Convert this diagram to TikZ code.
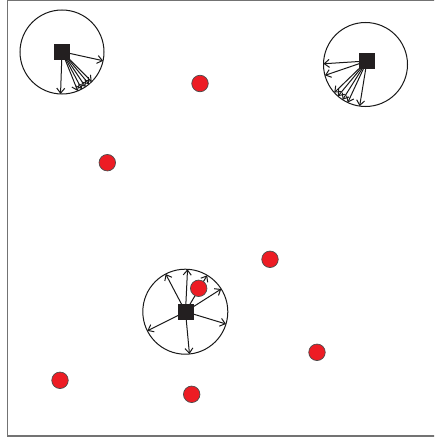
\documentclass[tikz,border=0pt]{standalone}
\usetikzlibrary{arrows.meta,calc}
\definecolor{dotred}{HTML}{ED1C24}
\definecolor{sqblack}{HTML}{231F20}
\begin{document}
\begin{tikzpicture}[x=1pt,y=-1pt,
  rangecirc/.style={draw=black!90,line width=1pt},
  rayarrow/.style={draw=black!90,line width=1pt,-{Straight Barb[length=5pt,width=8pt]}},
  stationbox/.style={fill=sqblack,minimum size=16pt,inner sep=0pt,draw=none},
  targetdot/.style={circle,fill=dotred,draw=black!70,line width=0.7pt,minimum size=16.5pt,inner sep=0pt},
  framebox/.style={draw=black!55,line width=1.2pt}]
\useasboundingbox (0,0) rectangle (434,439);
\clip (0,0) rectangle (434,439);
\draw[framebox] (7.5,0.6) rectangle (445,436);

% ranges
\coordinate (c1) at (62,52);
\coordinate (c2) at (365.5,64.5);
\coordinate (c3) at (185.3,311.7);
\draw[rangecirc] (c1) circle[radius=42];
\draw[rangecirc] (c2) circle[radius=42];
\draw[rangecirc] (c3) circle[radius=42.5];

% stations centres
\coordinate (o1) at (62,51.7);
\coordinate (o2) at (367,61);
\coordinate (o3) at (185.5,311.7);

% rays circle 1
\foreach \a [count=\i] in {12,92,68,62,56,50,45}
  \coordinate (e1\i) at ($(c1)+(\a:42)$);
\foreach \i in {1,...,7} \draw[rayarrow] (o1) -- (e1\i);

% rays circle 2
\foreach \a [count=\i] in {181,165,138,131,123,115,98}
  \coordinate (e2\i) at ($(c2)+(\a:42)$);
\foreach \i in {1,...,7} \draw[rayarrow] (o2) -- (e2\i);

% rays circle 3
\foreach \a [count=\i] in {-87,-117.5,-59,-32.3,16.8,84.4,-206.7}
  \coordinate (e3\i) at ($(c3)+(\a:42.5)$);
\foreach \i in {1,...,7} \draw[rayarrow] (o3) -- (e3\i);

% stations
\node[stationbox] (s1) at (o1) {};
\node[stationbox] (s2) at (o2) {};
\node[stationbox] (s3) at (o3) {};

% targets
\node[targetdot] (t1) at (200,83.5) {};
\node[targetdot] (t2) at (107.3,162.7) {};
\node[targetdot] (t3) at (270,259.3) {};
\node[targetdot] (t4) at (198.7,288.3) {};
\node[targetdot] (t5) at (317,352.3) {};
\node[targetdot] (t6) at (60,380.3) {};
\node[targetdot] (t7) at (191.7,394.3) {};
\end{tikzpicture}
\end{document}
